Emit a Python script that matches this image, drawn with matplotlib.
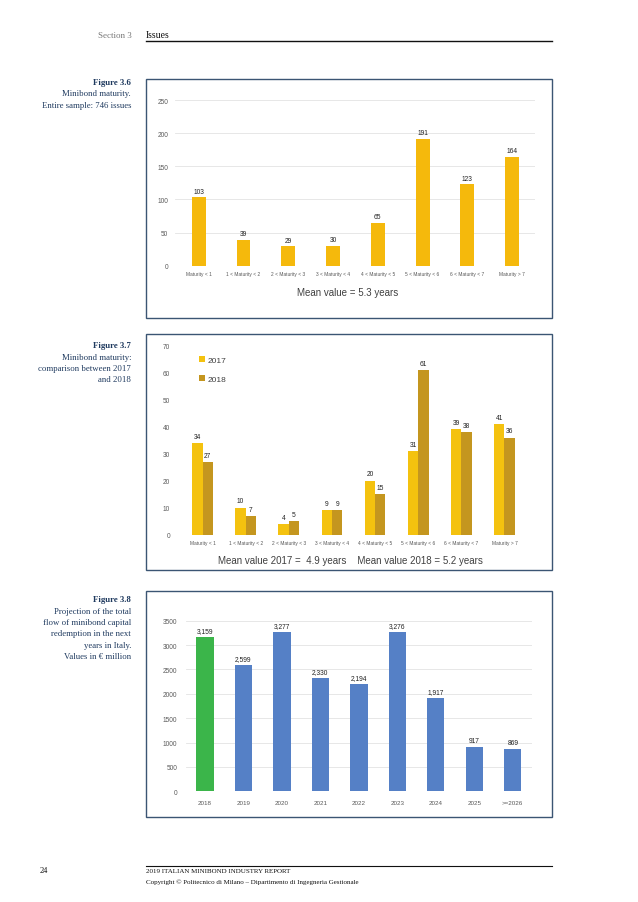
import matplotlib
matplotlib.use("Agg")
import matplotlib.pyplot as plt
from matplotlib.patches import Rectangle
from matplotlib.lines import Line2D
import numpy as np

# ---------------- data ----------------
maturity_cats = ["Maturity < 1", "1 < Maturity < 2", "2 < Maturity < 3", "3 < Maturity < 4",
                 "4 < Maturity < 5", "5 < Maturity < 6", "6 < Maturity < 7", "Maturity > 7"]
maturity_all = [103, 39, 29, 30, 65, 191, 123, 164]
maturity_2017 = [34, 10, 4, 9, 20, 31, 39, 41]
maturity_2018 = [27, 7, 5, 9, 15, 61, 38, 36]
years = ["2018", "2019", "2020", "2021", "2022", "2023", "2024", "2025", ">=2026"]
redemption = [3159, 2599, 3277, 2330, 2194, 3276, 1917, 917, 869]

W, H = 638, 903
fig = plt.figure(figsize=(W / 100, H / 100), dpi=100)
fig.patch.set_facecolor("white")

def rect(x0, y0, x1, y1):
    return [x0 / W, 1 - y1 / H, (x1 - x0) / W, (y1 - y0) / H]

def fx(x):
    return x / W

def fy(y):
    return 1 - y / H

NAVY = "#1F3A5F"
BORDER = "#3B5573"
SERIF = "Liberation Serif"
SANS = "Liberation Sans"
TICKC = "#595959"

# ---------------- header / footer ----------------
fig.text(fx(132), fy(36), "Section 3", ha="right", va="center", fontsize=6.5,
         family=SERIF, color="#777777")
fig.text(fx(146), fy(36), "Issues", ha="left", va="center", fontsize=7,
         family=SERIF, color="#111111")
fig.add_artist(Line2D([fx(146), fx(552)], [fy(42), fy(42)], color="#111111", lw=1.0))

fig.add_artist(Line2D([fx(146), fx(552)], [fy(867), fy(867)], color="#111111", lw=0.8))
fig.text(fx(40), fy(871), "24", ha="left", va="center", fontsize=6, family=SERIF, color="#111111")
fig.text(fx(146), fy(872), "2019 ITALIAN MINIBOND INDUSTRY REPORT", ha="left", va="center",
         fontsize=5, family=SERIF, color="#111111")
fig.text(fx(146), fy(882), "Copyright \u00a9 Politecnico di Milano \u2013 Dipartimento di Ingegneria Gestionale",
         ha="left", va="center", fontsize=5, family=SERIF, color="#111111")

# ---------------- captions ----------------
def caption(y0, title, lines):
    fig.text(fx(131), fy(y0), title, ha="right", va="center", fontsize=6.3,
             family=SERIF, weight="bold", color=NAVY)
    for i, ln in enumerate(lines):
        fig.text(fx(131), fy(y0 + 11.5 * (i + 1)), ln, ha="right", va="center",
                 fontsize=6.3, family=SERIF, color=NAVY)

caption(83, "Figure 3.6", ["Minibond maturity.", "Entire sample: 746 issues"])
caption(346, "Figure 3.7", ["Minibond maturity:", "comparison between 2017", "and 2018"])
caption(600, "Figure 3.8", ["Projection of the total", "flow of minibond capital",
                            "redemption in the next", "years in Italy.",
                            "Values in \u20ac million"])

# ---------------- boxes ----------------
for (x0, y0, x1, y1) in [(146, 80, 552, 319), (146, 335, 552, 571), (146, 592, 552, 818)]:
    fig.add_artist(Rectangle((fx(x0), fy(y1)), (x1 - x0) / W, (y1 - y0) / H,
                             fill=False, edgecolor=BORDER, lw=1.0))

def style_axes(ax, grid=True):
    for s in ax.spines.values():
        s.set_visible(False)
    ax.tick_params(axis="both", length=0, colors=TICKC)
    if grid:
        ax.grid(axis="y", color="#E3E3E3", lw=0.6)
        ax.set_axisbelow(True)

# ---------------- chart 1 ----------------
ax1 = fig.add_axes(rect(175, 101, 535, 266.7))
x = np.arange(len(maturity_cats))
ax1.bar(x, maturity_all, width=0.31, color="#F5B90C")
ax1.set_xlim(-0.53, 7.51)
ax1.set_ylim(0, 250)
ax1.set_yticks(range(0, 251, 50))
ax1.set_xticks(x)
ax1.set_xticklabels(maturity_cats, fontsize=3.5, family=SANS)
ax1.tick_params(axis="y", labelsize=4.7, pad=5)
ax1.tick_params(axis="x", pad=4)
for lab in ax1.get_yticklabels():
    lab.set_family(SANS)
style_axes(ax1)
for xi, v in zip(x, maturity_all):
    ax1.text(xi, v + 4, str(v), ha="center", va="bottom", fontsize=4.8, family=SANS, color="#222222")
fig.text(fx(348), fy(293), "Mean value = 5.3 years", ha="center", va="center",
         fontsize=7, family=SANS, color="#404040")

# ---------------- chart 2 ----------------
ax2 = fig.add_axes(rect(181, 346.7, 526, 535.7))
w = 0.24
ax2.bar(x - w / 2, maturity_2017, width=w, color="#F4C20F", label="2017")
ax2.bar(x + w / 2, maturity_2018, width=w, color="#C4961F", label="2018")
ax2.set_xlim(-0.5, 7.5)
ax2.set_ylim(0, 70)
ax2.set_yticks(range(0, 71, 10))
ax2.set_xticks(x)
ax2.set_xticklabels(maturity_cats, fontsize=3.5, family=SANS)
ax2.tick_params(axis="y", labelsize=4.7, pad=8)
ax2.tick_params(axis="x", pad=4)
for lab in ax2.get_yticklabels():
    lab.set_family(SANS)
style_axes(ax2, grid=False)
for xi, v in zip(x, maturity_2017):
    ax2.text(xi - w / 2, v + 1.2, str(v), ha="center", va="bottom", fontsize=4.8, family=SANS, color="#222222")
for xi, v in zip(x, maturity_2018):
    ax2.text(xi + w / 2, v + 1.2, str(v), ha="center", va="bottom", fontsize=4.8, family=SANS, color="#222222")
ax2.legend(loc="upper left", bbox_to_anchor=(0.03, 0.985), frameon=False,
           prop={"family": SANS, "size": 6}, handlelength=0.7, handleheight=0.7,
           handletextpad=0.3, labelspacing=1.3, labelcolor="#404040")
fig.text(fx(350), fy(561), "Mean value 2017 =  4.9 years    Mean value 2018 = 5.2 years",
         ha="center", va="center", fontsize=7, family=SANS, color="#404040")

# ---------------- chart 3 ----------------
ax3 = fig.add_axes(rect(185.7, 621.7, 532, 792.3))
x3 = np.arange(len(years))
colors3 = ["#3BB54A"] + ["#5580C6"] * (len(years) - 1)
ax3.bar(x3, redemption, width=0.45, color=colors3)
ax3.set_xlim(-0.5, 8.5)
ax3.set_ylim(0, 3500)
ax3.set_yticks(range(0, 3501, 500))
ax3.set_xticks(x3)
ax3.set_xticklabels(years, fontsize=4.5, family=SANS)
ax3.tick_params(axis="y", labelsize=4.7, pad=6)
ax3.tick_params(axis="x", pad=6)
for lab in ax3.get_yticklabels():
    lab.set_family(SANS)
style_axes(ax3)
for xi, v in zip(x3, redemption):
    ax3.text(xi, v + 60, f"{v:,}", ha="center", va="bottom", fontsize=4.8, family=SANS, color="#222222")

fig.savefig("out.png", dpi=100, facecolor="white")
